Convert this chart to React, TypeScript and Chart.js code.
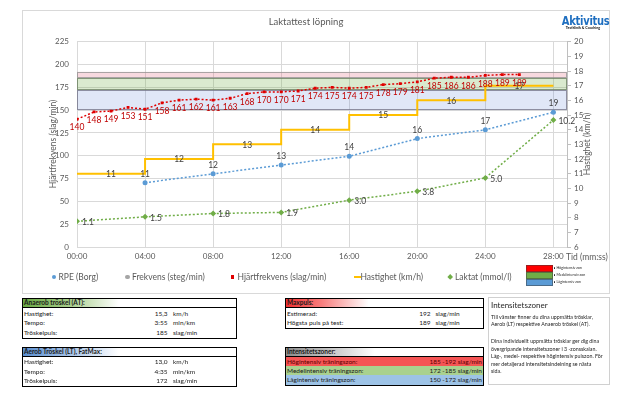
import React, { useEffect, useRef } from "react";
import { Chart, registerables } from "chart.js";

Chart.register(...registerables);

const FONT = "Lato, 'Open Sans', sans-serif";

// ---- chart data ----
const hrMinutes = [0, 1, 2, 3, 4, 5, 6, 7, 8, 9, 10, 11, 12, 13, 14, 15, 16, 17, 18, 19, 20, 21, 22, 23, 24, 25, 26];
const hrValues = [140, 148, 149, 153, 151, 158, 161, 162, 161, 163, 168, 170, 170, 171, 174, 175, 174, 175, 178, 179, 181, 185, 186, 186, 188, 189, 189];
const rpeMinutes = [4, 8, 12, 16, 20, 24, 28];
const rpeValues = [11, 12, 13, 14, 16, 17, 19];
const lactateMinutes = [0, 4, 8, 12, 16, 20, 24, 28];
const lactateValues = [1.1, 1.5, 1.8, 1.9, 3.0, 3.8, 5.0, 10.2];
const speedMinutes = [0, 4, 8, 12, 16, 20, 24, 28];
const speedValues = [11, 12, 13, 14, 15, 16, 17, 17];
const cadenceValues: { x: number; y: number }[] = [];
const zoneNames = ["Högintensiv zon", "Medelintensiv zon", "Lågintensiv zon"];
const zoneLower = [185, 172, 150];
const zoneUpper = [192, 185, 172];
const seriesNames = ["RPE (Borg)", "Frekvens (steg/min)", "Hjärtfrekvens (slag/min)", "Hastighet (km/h)", "Laktat (mmol/l)"];

// ---- table data ----
const atRows = [
  ["Hastighet:", "15,3", "km/h"],
  ["Tempo:", "3:55", "min/km"],
  ["Tröskelpuls:", "185", "slag/min"],
];
const ltRows = [
  ["Hastighet:", "13,0", "km/h"],
  ["Tempo:", "4:35", "min/km"],
  ["Tröskelpuls:", "172", "slag/min"],
];
const maxRows = [
  ["Estimerad:", "192", "slag/min"],
  ["Högsta puls på test:", "189", "slag/min"],
];
const zoneRowLabels = ["Högintensiv träningszon:", "Medelintensiv träningszon:", "Lågintensiv träningszon:"];
const zoneRowValues = ["185 -192 slag/min", "172 -185 slag/min", "150 -172 slag/min"];

// ---- styles ----
const bandFills = ["rgba(230,120,140,0.28)", "rgba(112,173,71,0.26)", "rgba(100,135,215,0.2)"];
const bandStrokes = ["rgba(150,150,150,0.8)", "rgba(110,130,100,0.8)", "rgba(120,120,140,0.8)"];
const zoneBlockColors = ["#ff0000", "#70ad47", "#5b9bd5"];
const zoneRowColors = ["#f55454", "#a9d18e", "#9dc3e6"];

const zoneBandsPlugin = {
  id: "zoneBands",
  beforeDatasetsDraw(chart: any) {
    const { ctx, chartArea, scales } = chart;
    const y = scales.y;
    ctx.save();
    zoneLower.forEach((lo, i) => {
      const top = y.getPixelForValue(zoneUpper[i]);
      const bottom = y.getPixelForValue(lo);
      ctx.fillStyle = bandFills[i];
      ctx.fillRect(chartArea.left, top, chartArea.right - chartArea.left, bottom - top);
      ctx.strokeStyle = bandStrokes[i];
      ctx.lineWidth = 1;
      ctx.strokeRect(chartArea.left + 0.5, Math.round(top) + 0.5, chartArea.right - chartArea.left - 1, Math.round(bottom - top) - 1);
    });
    ctx.restore();
  },
};

const valueLabelsPlugin = {
  id: "valueLabels",
  afterDatasetsDraw(chart: any) {
    const { ctx } = chart;
    ctx.save();
    ctx.font = `8.5px ${FONT}`;
    ctx.textBaseline = "middle";
    ctx.textAlign = "center";
    // speed labels at segment midpoints
    ctx.fillStyle = "#404040";
    const sm = chart.getDatasetMeta(3).data;
    for (let i = 0; i < sm.length - 1; i++) {
      ctx.fillText(String(speedValues[i]), (sm[i].x + sm[i + 1].x) / 2, sm[i].y + 0.5);
    }
    // RPE above
    chart.getDatasetMeta(0).data.forEach((p: any, i: number) => {
      ctx.fillText(String(rpeValues[i]), p.x, p.y - 8.5);
    });
    // HR below
    ctx.fillStyle = "#c00000";
    chart.getDatasetMeta(2).data.forEach((p: any, i: number) => {
      ctx.fillText(String(hrValues[i]), p.x, p.y + 8.5);
    });
    // lactate right
    ctx.fillStyle = "#404040";
    ctx.textAlign = "left";
    chart.getDatasetMeta(4).data.forEach((p: any, i: number) => {
      ctx.fillText(lactateValues[i].toFixed(1), p.x + 5, p.y + 1);
    });
    ctx.restore();
  },
};

function pad2(n: number) {
  return String(n).padStart(2, "0");
}

function ChartCanvas() {
  const ref = useRef<HTMLCanvasElement | null>(null);
  useEffect(() => {
    if (!ref.current) return;
    const tickFont = { family: FONT, size: 8 };
    const chart = new Chart(ref.current, {
      type: "line",
      data: {
        datasets: [
          {
            label: seriesNames[0],
            data: rpeMinutes.map((m, i) => ({ x: m, y: rpeValues[i] })),
            yAxisID: "yRpe",
            borderColor: "#5b9bd5",
            backgroundColor: "#5b9bd5",
            borderWidth: 1.5,
            borderDash: [2, 2],
            pointStyle: "circle",
            pointRadius: 2.5,
            pointBorderWidth: 0,
          },
          {
            label: seriesNames[1],
            data: cadenceValues,
            yAxisID: "y",
            borderColor: "#a5a5a5",
            backgroundColor: "#a5a5a5",
          },
          {
            label: seriesNames[2],
            data: hrMinutes.map((m, i) => ({ x: m, y: hrValues[i] })),
            yAxisID: "y",
            borderColor: "#e00000",
            backgroundColor: "#e00000",
            borderWidth: 1.5,
            borderDash: [2, 2],
            pointStyle: "rect",
            pointRadius: 2,
            pointBorderWidth: 0,
          },
          {
            label: seriesNames[3],
            data: speedMinutes.map((m, i) => ({ x: m, y: speedValues[i] })),
            yAxisID: "ySpeed",
            borderColor: "#ffc000",
            backgroundColor: "#ffc000",
            borderWidth: 2,
            stepped: true,
            pointRadius: 0,
          },
          {
            label: seriesNames[4],
            data: lactateMinutes.map((m, i) => ({ x: m, y: lactateValues[i] })),
            yAxisID: "yLac",
            borderColor: "#70ad47",
            backgroundColor: "#70ad47",
            borderWidth: 1.5,
            borderDash: [2, 2],
            pointStyle: "rectRot",
            pointRadius: 3,
            pointBorderWidth: 0,
          },
        ],
      },
      options: {
        animation: false,
        responsive: false,
        events: [],
        layout: { padding: { top: 41.7, left: 0, right: 0, bottom: 0 } },
        plugins: { legend: { display: false }, tooltip: { enabled: false }, title: { display: false } },
        scales: {
          x: {
            type: "linear",
            min: 0,
            max: 28.8,
            ticks: {
              stepSize: 4,
              includeBounds: false,
              font: tickFont,
              color: "#595959",
              padding: 5,
              maxRotation: 0,
              callback: (v: any) => `${pad2(Number(v))}:00`,
            },
            grid: { color: "#d9d9d9", drawTicks: false },
            border: { display: false },
            afterFit: (s: any) => {
              s.height = 53;
            },
          },
          y: {
            position: "left",
            min: 0,
            max: 225,
            ticks: { stepSize: 25, font: tickFont, color: "#595959", padding: 8 },
            grid: { color: "#d9d9d9", drawTicks: false },
            border: { display: false },
            afterFit: (s: any) => {
              s.width = 77;
            },
          },
          ySpeed: {
            position: "right",
            min: 6,
            max: 20,
            ticks: { stepSize: 1, font: tickFont, color: "#595959", padding: 3 },
            grid: { drawOnChartArea: false, tickLength: 4, color: "#bfbfbf" },
            border: { display: true, color: "#bfbfbf" },
            afterFit: (s: any) => {
              s.width = 73;
            },
          },
          yRpe: { display: false, min: 3.7, max: 27 },
          yLac: { display: false, min: -1.21, max: 17.24 },
        },
      },
      plugins: [zoneBandsPlugin, valueLabelsPlugin],
    } as any);
    return () => chart.destroy();
  }, []);
  return (
    <canvas
      ref={ref}
      width={640}
      height={300}
      style={{ position: "absolute", left: 0, top: 0, width: 640, height: 300, display: "block" }}
    />
  );
}

const abs = (left: number, top: number, extra: React.CSSProperties = {}): React.CSSProperties => ({
  position: "absolute",
  left,
  top,
  ...extra,
});

function InfoTable(props: {
  left: number;
  top: number;
  width: number;
  title: string;
  headerBg: string;
  rows: string[][];
  rowH: number;
  numRight: number;
  unitLeft: number;
}) {
  const { left, top, width, title, headerBg, rows, rowH, numRight, unitLeft } = props;
  return (
    <div
      style={abs(left, top, {
        width,
        border: "1px solid #000",
        boxSizing: "border-box",
        fontSize: 6.5,
        color: "#1a1a1a",
        background: "#fff",
      })}
    >
      <div
        style={{
          height: 8,
          lineHeight: "8px",
          background: headerBg,
          borderBottom: "1px solid #000",
          fontWeight: 700,
          paddingLeft: 1,
          whiteSpace: "nowrap",
        }}
      >
        {title}
      </div>
      <div style={{ paddingTop: 0.5, paddingBottom: 0.5 }}>
        {rows.map((r, i) => (
          <div key={i} style={{ position: "relative", height: rowH, lineHeight: `${rowH}px`, whiteSpace: "nowrap" }}>
            <span style={{ position: "absolute", left: 1 }}>{r[0]}</span>
            <span style={{ position: "absolute", right: width - numRight, textAlign: "right" }}>{r[1]}</span>
            <span style={{ position: "absolute", left: unitLeft }}>{r[2]}</span>
          </div>
        ))}
      </div>
    </div>
  );
}

export default function App() {
  const legendText: React.CSSProperties = { fontSize: 8.5, color: "#595959", lineHeight: "10px", whiteSpace: "nowrap" };
  const legendY = 272;
  return (
    <div
      style={{
        position: "absolute",
        left: 0,
        top: 0,
        width: 640,
        height: 397,
        background: "#fff",
        fontFamily: FONT,
        overflow: "hidden",
      }}
    >
      {/* chart frame */}
      <div style={abs(22, 10, { width: 588, height: 284, border: "1px solid #d9d9d9", boxSizing: "border-box" })} />
      <ChartCanvas />

      {/* title */}
      <div style={abs(266, 15, { width: 80, textAlign: "center", fontSize: 9.5, color: "#595959", lineHeight: "13px", whiteSpace: "nowrap" })}>
        Laktattest löpning
      </div>

      {/* logo */}
      <div style={abs(560, 16, { width: 46, textAlign: "center", lineHeight: "11px" })}>
        <div
          style={{
            fontFamily: "'Liberation Sans Narrow', 'DejaVu Sans Condensed', sans-serif",
            fontWeight: 700,
            fontSize: 12,
            color: "#1f6fc0",
            letterSpacing: -0.3,
            transform: "scaleX(0.92)",
          }}
        >
          Aktivitus
        </div>
        <div style={{ fontSize: 3.6, fontWeight: 700, color: "#111", lineHeight: "4px", marginTop: -1.5, whiteSpace: "nowrap" }}>
          Testklinik &amp; Coaching
        </div>
      </div>

      {/* axis titles */}
      <div
        style={abs(53, 144, {
          transform: "translate(-50%, -50%) rotate(-90deg)",
          fontSize: 8.5,
          color: "#595959",
          whiteSpace: "nowrap",
          lineHeight: "10px",
        })}
      >
        Hjärtfrekvens (slag/min)
      </div>
      <div
        style={abs(587, 144, {
          transform: "translate(-50%, -50%) rotate(-90deg)",
          fontSize: 8.5,
          color: "#595959",
          whiteSpace: "nowrap",
          lineHeight: "10px",
        })}
      >
        Hastighet (km/h)
      </div>
      <div style={abs(566, 252, { fontSize: 8.5, color: "#595959", lineHeight: "10px", whiteSpace: "nowrap" })}>Tid (mm:ss)</div>

      {/* legend */}
      <div style={abs(51.5, legendY + 2.8, { width: 4.5, height: 4.5, borderRadius: "50%", background: "#5b9bd5" })} />
      <div style={abs(58.5, legendY, legendText)}>{seriesNames[0]}</div>
      <div style={abs(125.3, legendY + 2.8, { width: 4.5, height: 4.5, borderRadius: "50%", background: "#a5a5a5" })} />
      <div style={abs(132, legendY, legendText)}>{seriesNames[1]}</div>
      <div style={abs(230.5, legendY + 3.2, { width: 3.5, height: 3.5, background: "#e00000" })} />
      <div style={abs(237.5, legendY, legendText)}>{seriesNames[2]}</div>
      <div style={abs(353.5, legendY + 4, { width: 7, height: 2, background: "#ffc000" })} />
      <div style={abs(360.5, legendY, legendText)}>{seriesNames[3]}</div>
      <div style={abs(447.8, legendY + 2.8, { width: 4.4, height: 4.4, background: "#70ad47", transform: "rotate(45deg)" })} />
      <div style={abs(455, legendY, legendText)}>{seriesNames[4]}</div>

      {/* zone legend */}
      {zoneNames.map((n, i) => (
        <React.Fragment key={n}>
          <div
            style={abs(526, 265 + i * 7, {
              width: 27,
              height: 7,
              background: zoneBlockColors[i],
              boxSizing: "border-box",
              border: "0.5px solid rgba(60,60,60,0.5)",
            })}
          />
          <div style={abs(554, 267.4 + i * 7, { width: 1.2, height: 1.2, background: "#222", borderRadius: "50%" })} />
          <div style={abs(556.5, 265.8 + i * 7, { fontSize: 3.6, lineHeight: "4px", color: "#222", whiteSpace: "nowrap" })}>{n}</div>
        </React.Fragment>
      ))}

      {/* tables */}
      <InfoTable
        left={22}
        top={298}
        width={215}
        title="Anaerob tröskel (AT):"
        headerBg="linear-gradient(90deg, #6aa944 0%, #a8cf8c 22%, #ffffff 45%)"
        rows={atRows}
        rowH={9.6}
        numRight={146.5}
        unitLeft={150}
      />
      <InfoTable
        left={22}
        top={346.7}
        width={215}
        title="Aerob Tröskel (LT), FatMax:"
        headerBg="linear-gradient(90deg, #5b8fd0 0%, #a6c3e8 22%, #ffffff 45%)"
        rows={ltRows}
        rowH={9.6}
        numRight={146.5}
        unitLeft={150}
      />
      <InfoTable
        left={285}
        top={298.3}
        width={199}
        title="Maxpuls:"
        headerBg="linear-gradient(90deg, #f23030 0%, #f77d7d 18%, #ffffff 42%)"
        rows={maxRows}
        rowH={9.4}
        numRight={146.5}
        unitLeft={149.5}
      />

      {/* intensity zones table */}
      <div
        style={abs(285, 346.7, {
          width: 199,
          border: "1px solid #000",
          boxSizing: "border-box",
          fontSize: 6.5,
          color: "#1a1a1a",
          background: "#fff",
        })}
      >
        <div
          style={{
            height: 8,
            lineHeight: "8px",
            background: "linear-gradient(90deg, #8c8c8c 0%, #c4c4c4 22%, #ffffff 45%)",
            borderBottom: "1px solid #000",
            fontWeight: 700,
            paddingLeft: 1,
          }}
        >
          Intensitetszoner:
        </div>
        {zoneRowLabels.map((l, i) => (
          <div
            key={l}
            style={{
              position: "relative",
              height: 9.3,
              lineHeight: "9.3px",
              background: zoneRowColors[i],
              whiteSpace: "nowrap",
              color: i === 0 ? "#5a0000" : "#1a1a1a",
            }}
          >
            <span style={{ position: "absolute", left: 1 }}>{l}</span>
            <span style={{ position: "absolute", right: 1 }}>{zoneRowValues[i]}</span>
          </div>
        ))}
      </div>

      {/* info text box */}
      <div style={abs(488, 297, { width: 122, height: 87.5, border: "1px solid #d0d0d0", boxSizing: "border-box" })} />
      <div style={abs(491, 300, { fontSize: 8, color: "#262626", lineHeight: "10px", whiteSpace: "nowrap" })}>Intensitetszoner</div>
      <div style={abs(491, 313.6, { fontSize: 5.3, color: "#262626", lineHeight: "7.4px", whiteSpace: "nowrap" })}>
        Till vänster finner du dina uppmätta trösklar,
        <br />
        Aerob (LT) respektive Anaerob tröskel (AT).
      </div>
      <div style={abs(491, 338, { fontSize: 5.3, color: "#262626", lineHeight: "7.5px", whiteSpace: "nowrap" })}>
        Dina individuellt uppmätta trösklar ger dig dina
        <br />
        övergripande intensitetszoner i 3 -zonsskalan.
        <br />
        Låg-, medel- respektive högintensiv pulszon. För
        <br />
        mer detaljerad intensitetsindelning se nästa
        <br />
        sida.
      </div>
    </div>
  );
}
